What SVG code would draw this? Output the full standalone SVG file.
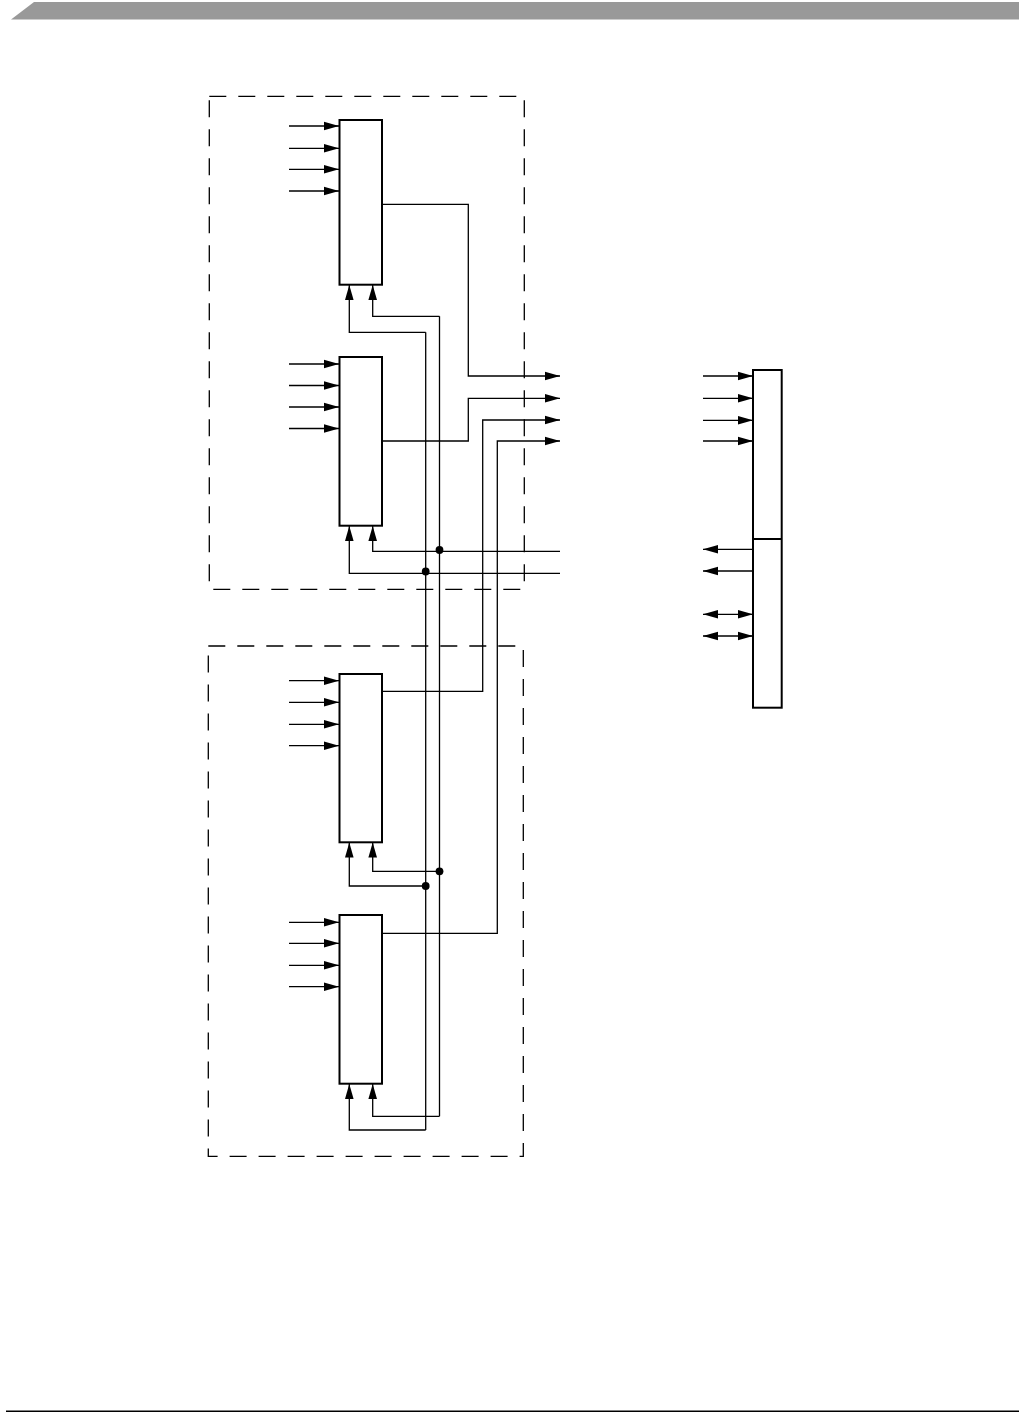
<svg xmlns="http://www.w3.org/2000/svg" width="1019" height="1419" viewBox="0 0 1019 1419">
<style>
.blk{fill:#fff;stroke:#000;stroke-width:2}
.grp{fill:none;stroke:#000;stroke-width:1.3;stroke-dasharray:17 12}
.w{fill:none;stroke:#000;stroke-width:1.3}
.a{fill:none;stroke:#000;stroke-width:1.3;marker-end:url(#ah)}
.b{fill:none;stroke:#000;stroke-width:1.3;marker-end:url(#ah);marker-start:url(#ah)}
.dot{fill:#000}
</style>
<defs>
<marker id="ah" markerUnits="userSpaceOnUse" markerWidth="15" markerHeight="9" refX="15" refY="4.3" orient="auto-start-reverse" overflow="visible">
<path d="M0,0 L15,4.3 L0,8.6 z" fill="#000"/>
</marker>
</defs>
<rect width="1019" height="1419" fill="#fff"/>
<polygon points="11,19.5 34,2 1019,2 1019,19.5" fill="#999"/>
<line x1="6" y1="1411.3" x2="1019" y2="1411.3" stroke="#000" stroke-width="1.6"/>

<g id="group-top"><rect class="grp" x="209.3" y="96.3" width="315" height="493"/></g>
<g id="group-bottom"><rect class="grp" x="208.3" y="646" width="315" height="510.3"/></g>

<g id="block1"><rect class="blk" x="339.5" y="120" width="42.5" height="164.7"/></g>
<g id="block2"><rect class="blk" x="339.5" y="357" width="42.5" height="168.7"/></g>
<g id="block3"><rect class="blk" x="339.5" y="674" width="42.5" height="168.3"/></g>
<g id="block4"><rect class="blk" x="339.5" y="915" width="42.5" height="168.7"/></g>
<g id="block-right">
<rect class="blk" x="753" y="370" width="28.7" height="337.7"/>
<line x1="753" y1="539" x2="781.7" y2="539" stroke="#000" stroke-width="2"/>
</g>

<g id="connectors">
<line class="a" x1="289" y1="126" x2="339" y2="126"/>
<line class="a" x1="289" y1="148.3" x2="339" y2="148.3"/>
<line class="a" x1="289" y1="169.3" x2="339" y2="169.3"/>
<line class="a" x1="289" y1="191" x2="339" y2="191"/>
<line class="a" x1="289" y1="364" x2="339" y2="364"/>
<line class="a" x1="289" y1="385.5" x2="339" y2="385.5"/>
<line class="a" x1="289" y1="407" x2="339" y2="407"/>
<line class="a" x1="289" y1="428.5" x2="339" y2="428.5"/>
<line class="a" x1="289" y1="680.7" x2="339" y2="680.7"/>
<line class="a" x1="289" y1="702.3" x2="339" y2="702.3"/>
<line class="a" x1="289" y1="724.3" x2="339" y2="724.3"/>
<line class="a" x1="289" y1="745.7" x2="339" y2="745.7"/>
<line class="a" x1="289" y1="922.3" x2="339" y2="922.3"/>
<line class="a" x1="289" y1="943.3" x2="339" y2="943.3"/>
<line class="a" x1="289" y1="965.3" x2="339" y2="965.3"/>
<line class="a" x1="289" y1="986.7" x2="339" y2="986.7"/>

<polyline class="a" points="382,204.3 468.3,204.3 468.3,376 560,376"/>
<polyline class="a" points="382,441 468.3,441 468.3,398.3 560,398.3"/>
<polyline class="a" points="382,691.3 482.7,691.3 482.7,420 560,420"/>
<polyline class="a" points="382,933.3 497.3,933.3 497.3,441 560,441"/>

<polyline class="a" points="560,551.3 372.7,551.3 372.7,526"/>
<polyline class="a" points="560,573.3 349.3,573.3 349.3,526"/>
<polyline class="w" points="425.7,1130 425.7,332.3"/>
<polyline class="w" points="439.5,1116.3 439.5,316.3"/>
<polyline class="a" points="425.7,332.3 349.3,332.3 349.3,285"/>
<polyline class="a" points="439.5,316.3 372.7,316.3 372.7,285"/>
<polyline class="a" points="439.5,871.3 372.7,871.3 372.7,842.5"/>
<polyline class="a" points="425.7,886 349.3,886 349.3,842.5"/>
<polyline class="a" points="439.5,1116.3 372.7,1116.3 372.7,1084"/>
<polyline class="a" points="425.7,1130 349.3,1130 349.3,1084"/>
<circle class="dot" cx="439.5" cy="550" r="3.9"/>
<circle class="dot" cx="425.7" cy="571.5" r="3.9"/>
<circle class="dot" cx="439.5" cy="871.3" r="3.9"/>
<circle class="dot" cx="425.7" cy="886" r="3.9"/>

<line class="a" x1="703" y1="376" x2="753" y2="376"/>
<line class="a" x1="703" y1="398.3" x2="753" y2="398.3"/>
<line class="a" x1="703" y1="420.3" x2="753" y2="420.3"/>
<line class="a" x1="703" y1="441" x2="753" y2="441"/>
<line class="a" x1="753" y1="549.3" x2="703" y2="549.3"/>
<line class="a" x1="753" y1="571" x2="703" y2="571"/>
<line class="b" x1="703" y1="614.3" x2="753" y2="614.3"/>
<line class="b" x1="703" y1="636" x2="753" y2="636"/>
</g>
</svg>
